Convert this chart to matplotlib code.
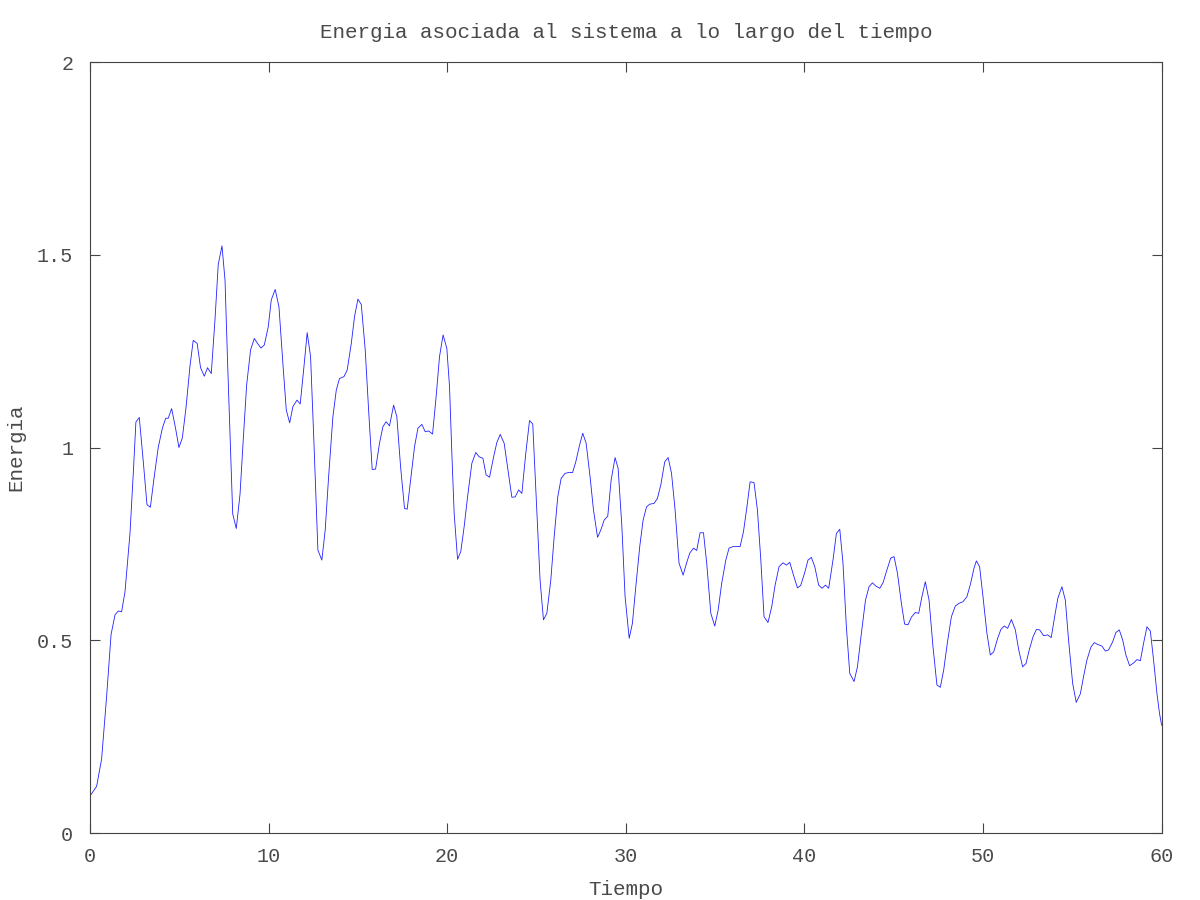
import matplotlib
matplotlib.use("Agg")
import matplotlib.pyplot as plt

tiempo = [0, 0.37, 0.65, 0.93, 1.18, 1.4, 1.59, 1.77, 1.96, 2.24, 2.43, 2.57, 2.76, 2.99, 3.19, 3.38, 3.58, 3.82, 4.05, 4.24,
          4.38, 4.57, 4.79, 4.98, 5.17, 5.37, 5.6, 5.78, 6.0, 6.19, 6.4, 6.58, 6.79, 7.0, 7.18, 7.39, 7.56, 7.71, 7.84, 7.99,
          8.19, 8.4, 8.58, 8.77, 8.99, 9.2, 9.38, 9.57, 9.76, 9.98,
          10.15, 10.37, 10.58, 10.8, 10.99, 11.18, 11.36, 11.59, 11.77, 11.98, 12.16, 12.35, 12.54, 12.76, 12.98, 13.17,
          13.36, 13.6, 13.79, 13.97, 14.22, 14.4, 14.63, 14.81, 15.0, 15.19, 15.41, 15.6, 15.8, 15.99, 16.21, 16.4, 16.58,
          16.77, 17.0, 17.18, 17.39, 17.61, 17.76, 17.95, 18.17, 18.36, 18.58, 18.77, 18.96, 19.18, 19.38, 19.57, 19.77, 19.98,
          20.13, 20.26, 20.39, 20.58, 20.76, 20.95, 21.14, 21.38, 21.6, 21.79, 22.0, 22.18, 22.37, 22.6, 22.78, 22.97, 23.19,
          23.4, 23.62, 23.81, 24.0, 24.18, 24.4, 24.61, 24.79, 24.98, 25.2, 25.39, 25.58, 25.8, 25.99, 26.19, 26.38, 26.6,
          26.79, 27.02, 27.2, 27.41, 27.59, 27.78, 28.0, 28.19, 28.42, 28.6, 28.79, 28.99, 29.18, 29.4, 29.57, 29.78, 29.96,
          30.19, 30.37, 30.56, 30.78, 30.97, 31.16, 31.34, 31.58, 31.77, 31.96, 32.18, 32.37, 32.56, 32.76, 32.98, 33.21,
          33.4, 33.58, 33.79, 33.97, 34.16, 34.35, 34.53, 34.76, 34.98, 35.17, 35.37, 35.6, 35.78, 36.0, 36.21, 36.4, 36.59,
          36.77, 36.96, 37.18, 37.37, 37.56, 37.74, 37.96, 38.17, 38.36, 38.58, 38.8, 38.99, 39.18, 39.39, 39.61, 39.79, 40.02,
          40.2, 40.39, 40.58, 40.8, 40.99, 41.18, 41.36, 41.6, 41.79, 41.98, 42.16, 42.35, 42.54, 42.78, 42.97, 43.19, 43.42,
          43.62, 43.81, 43.99, 44.22, 44.4, 44.59, 44.83, 45.02, 45.21, 45.43, 45.61, 45.8, 45.99, 46.21, 46.4, 46.58, 46.77,
          46.98, 47.2, 47.42, 47.61, 47.8, 48.0, 48.23, 48.45, 48.66, 48.88, 49.1, 49.31, 49.49, 49.63, 49.81, 50.0,
          50.22, 50.41, 50.6, 50.82, 51.0, 51.19, 51.38, 51.59, 51.81, 52.0, 52.22, 52.41, 52.59, 52.8, 52.99, 53.17, 53.39,
          53.62, 53.82, 54.01, 54.19, 54.42, 54.61, 54.79, 55.02, 55.22, 55.45, 55.63, 55.82, 56.04, 56.23, 56.43, 56.66,
          56.85, 57.03, 57.26, 57.44, 57.63, 57.82, 58.0, 58.21, 58.43, 58.62, 58.81, 58.99, 59.18, 59.37, 59.55, 59.74,
          59.88, 60.0]

energia = [0.096, 0.121, 0.192, 0.354, 0.515, 0.566, 0.576, 0.574, 0.626, 0.778, 0.939, 1.066, 1.078, 0.96, 0.852, 0.845,
           0.919, 1.0, 1.05, 1.076, 1.076, 1.101, 1.05, 1.0, 1.025, 1.101, 1.212, 1.278, 1.27, 1.207, 1.185, 1.207, 1.192,
           1.333, 1.475, 1.523, 1.434, 1.212, 1.03, 0.828, 0.79, 0.879, 1.02, 1.162, 1.253, 1.283, 1.27, 1.258, 1.266, 1.313,
           1.383, 1.41, 1.365, 1.218, 1.097, 1.064, 1.106, 1.123, 1.113, 1.21, 1.298, 1.236, 1.011, 0.734, 0.708, 0.786,
           0.924, 1.08, 1.149, 1.179, 1.184, 1.201, 1.27, 1.339, 1.385, 1.371, 1.253, 1.097, 0.943, 0.944, 1.011, 1.054, 1.067,
           1.056, 1.11, 1.08, 0.95, 0.842, 0.84, 0.916, 1.002, 1.05, 1.06, 1.041, 1.043, 1.035, 1.132, 1.236, 1.292, 1.257,
           1.158, 0.985, 0.829, 0.71, 0.73, 0.795, 0.872, 0.959, 0.987, 0.976, 0.972, 0.929, 0.923, 0.976, 1.013, 1.034, 1.011,
           0.942, 0.871, 0.872, 0.89, 0.881, 0.985, 1.07, 1.061, 0.872, 0.656, 0.553, 0.57, 0.656, 0.769, 0.872, 0.92, 0.933,
           0.935, 0.935, 0.963, 1.006, 1.037, 1.011, 0.924, 0.838, 0.767, 0.786, 0.812, 0.822, 0.916, 0.974, 0.946, 0.795, 0.613,
           0.505, 0.544, 0.639, 0.743, 0.812, 0.846, 0.853, 0.855, 0.868, 0.903, 0.963, 0.974, 0.933, 0.838, 0.7, 0.669,
           0.7, 0.726, 0.739, 0.733, 0.779, 0.779, 0.7, 0.57, 0.537, 0.578, 0.648, 0.708, 0.739, 0.743, 0.743, 0.743, 0.782,
           0.842, 0.911, 0.909, 0.838, 0.708, 0.561, 0.546, 0.587, 0.643, 0.691, 0.701, 0.695, 0.702, 0.669, 0.636, 0.642, 0.676,
           0.708, 0.715, 0.691, 0.643, 0.635, 0.643, 0.635, 0.708, 0.777, 0.788, 0.7, 0.535, 0.414, 0.393, 0.431, 0.518, 0.604,
           0.639, 0.649, 0.641, 0.635, 0.649, 0.678, 0.713, 0.717, 0.674, 0.596, 0.542, 0.54, 0.56, 0.572, 0.57, 0.613, 0.652,
           0.604, 0.483, 0.384, 0.378, 0.423, 0.492, 0.561, 0.589, 0.596, 0.6, 0.613, 0.648, 0.686, 0.706, 0.691, 0.613,
           0.518, 0.462, 0.47, 0.505, 0.528, 0.537, 0.531, 0.554, 0.527, 0.475, 0.431, 0.44, 0.475, 0.509, 0.528, 0.527, 0.512,
           0.514, 0.507, 0.561, 0.609, 0.639, 0.604, 0.501, 0.388, 0.339, 0.361, 0.406, 0.449, 0.482, 0.494, 0.489, 0.485,
           0.472, 0.475, 0.496, 0.52, 0.527, 0.501, 0.462, 0.434, 0.441, 0.45, 0.447, 0.492, 0.535, 0.524, 0.449, 0.362,
           0.311, 0.28]

x_ticks = [0, 10, 20, 30, 40, 50, 60]
y_ticks = [0, 0.5, 1, 1.5, 2]
y_tick_labels = ["0", "0.5", "1", "1.5", "2"]

title = "Energia asociada al sistema a lo largo del tiempo"
xlabel = "Tiempo"
ylabel = "Energia"

plt.rcParams['font.family'] = ['Liberation Mono', 'DejaVu Sans Mono']
text_color = '#4a4a4a'

fig = plt.figure(figsize=(12, 9), dpi=100)
ax = fig.add_axes([0.075, 0.0744, 0.893, 0.8567])
ax.plot(tiempo, energia, color='#2020ff', linewidth=0.6)

ax.set_xlim(0, 60)
ax.set_ylim(0, 2)
ax.set_xticks(x_ticks)
ax.set_xticklabels([str(v) for v in x_ticks])
ax.set_yticks(y_ticks)
ax.set_yticklabels(y_tick_labels)

ax.tick_params(axis='both', direction='in', length=7, width=0.8, color='#444444',
               top=True, right=True, labelsize=14.5, labelcolor=text_color)
ax.tick_params(axis='x', pad=10)
ax.tick_params(axis='y', pad=12)
for s in ax.spines.values():
    s.set_color('#444444')
    s.set_linewidth(0.8)

ax.set_title(title, fontsize=15, color=text_color, pad=17)
ax.set_xlabel(xlabel, fontsize=15, color=text_color, labelpad=10)
ax.set_ylabel(ylabel, fontsize=15, color=text_color, labelpad=8)

fig.savefig("out.png", dpi=100)
